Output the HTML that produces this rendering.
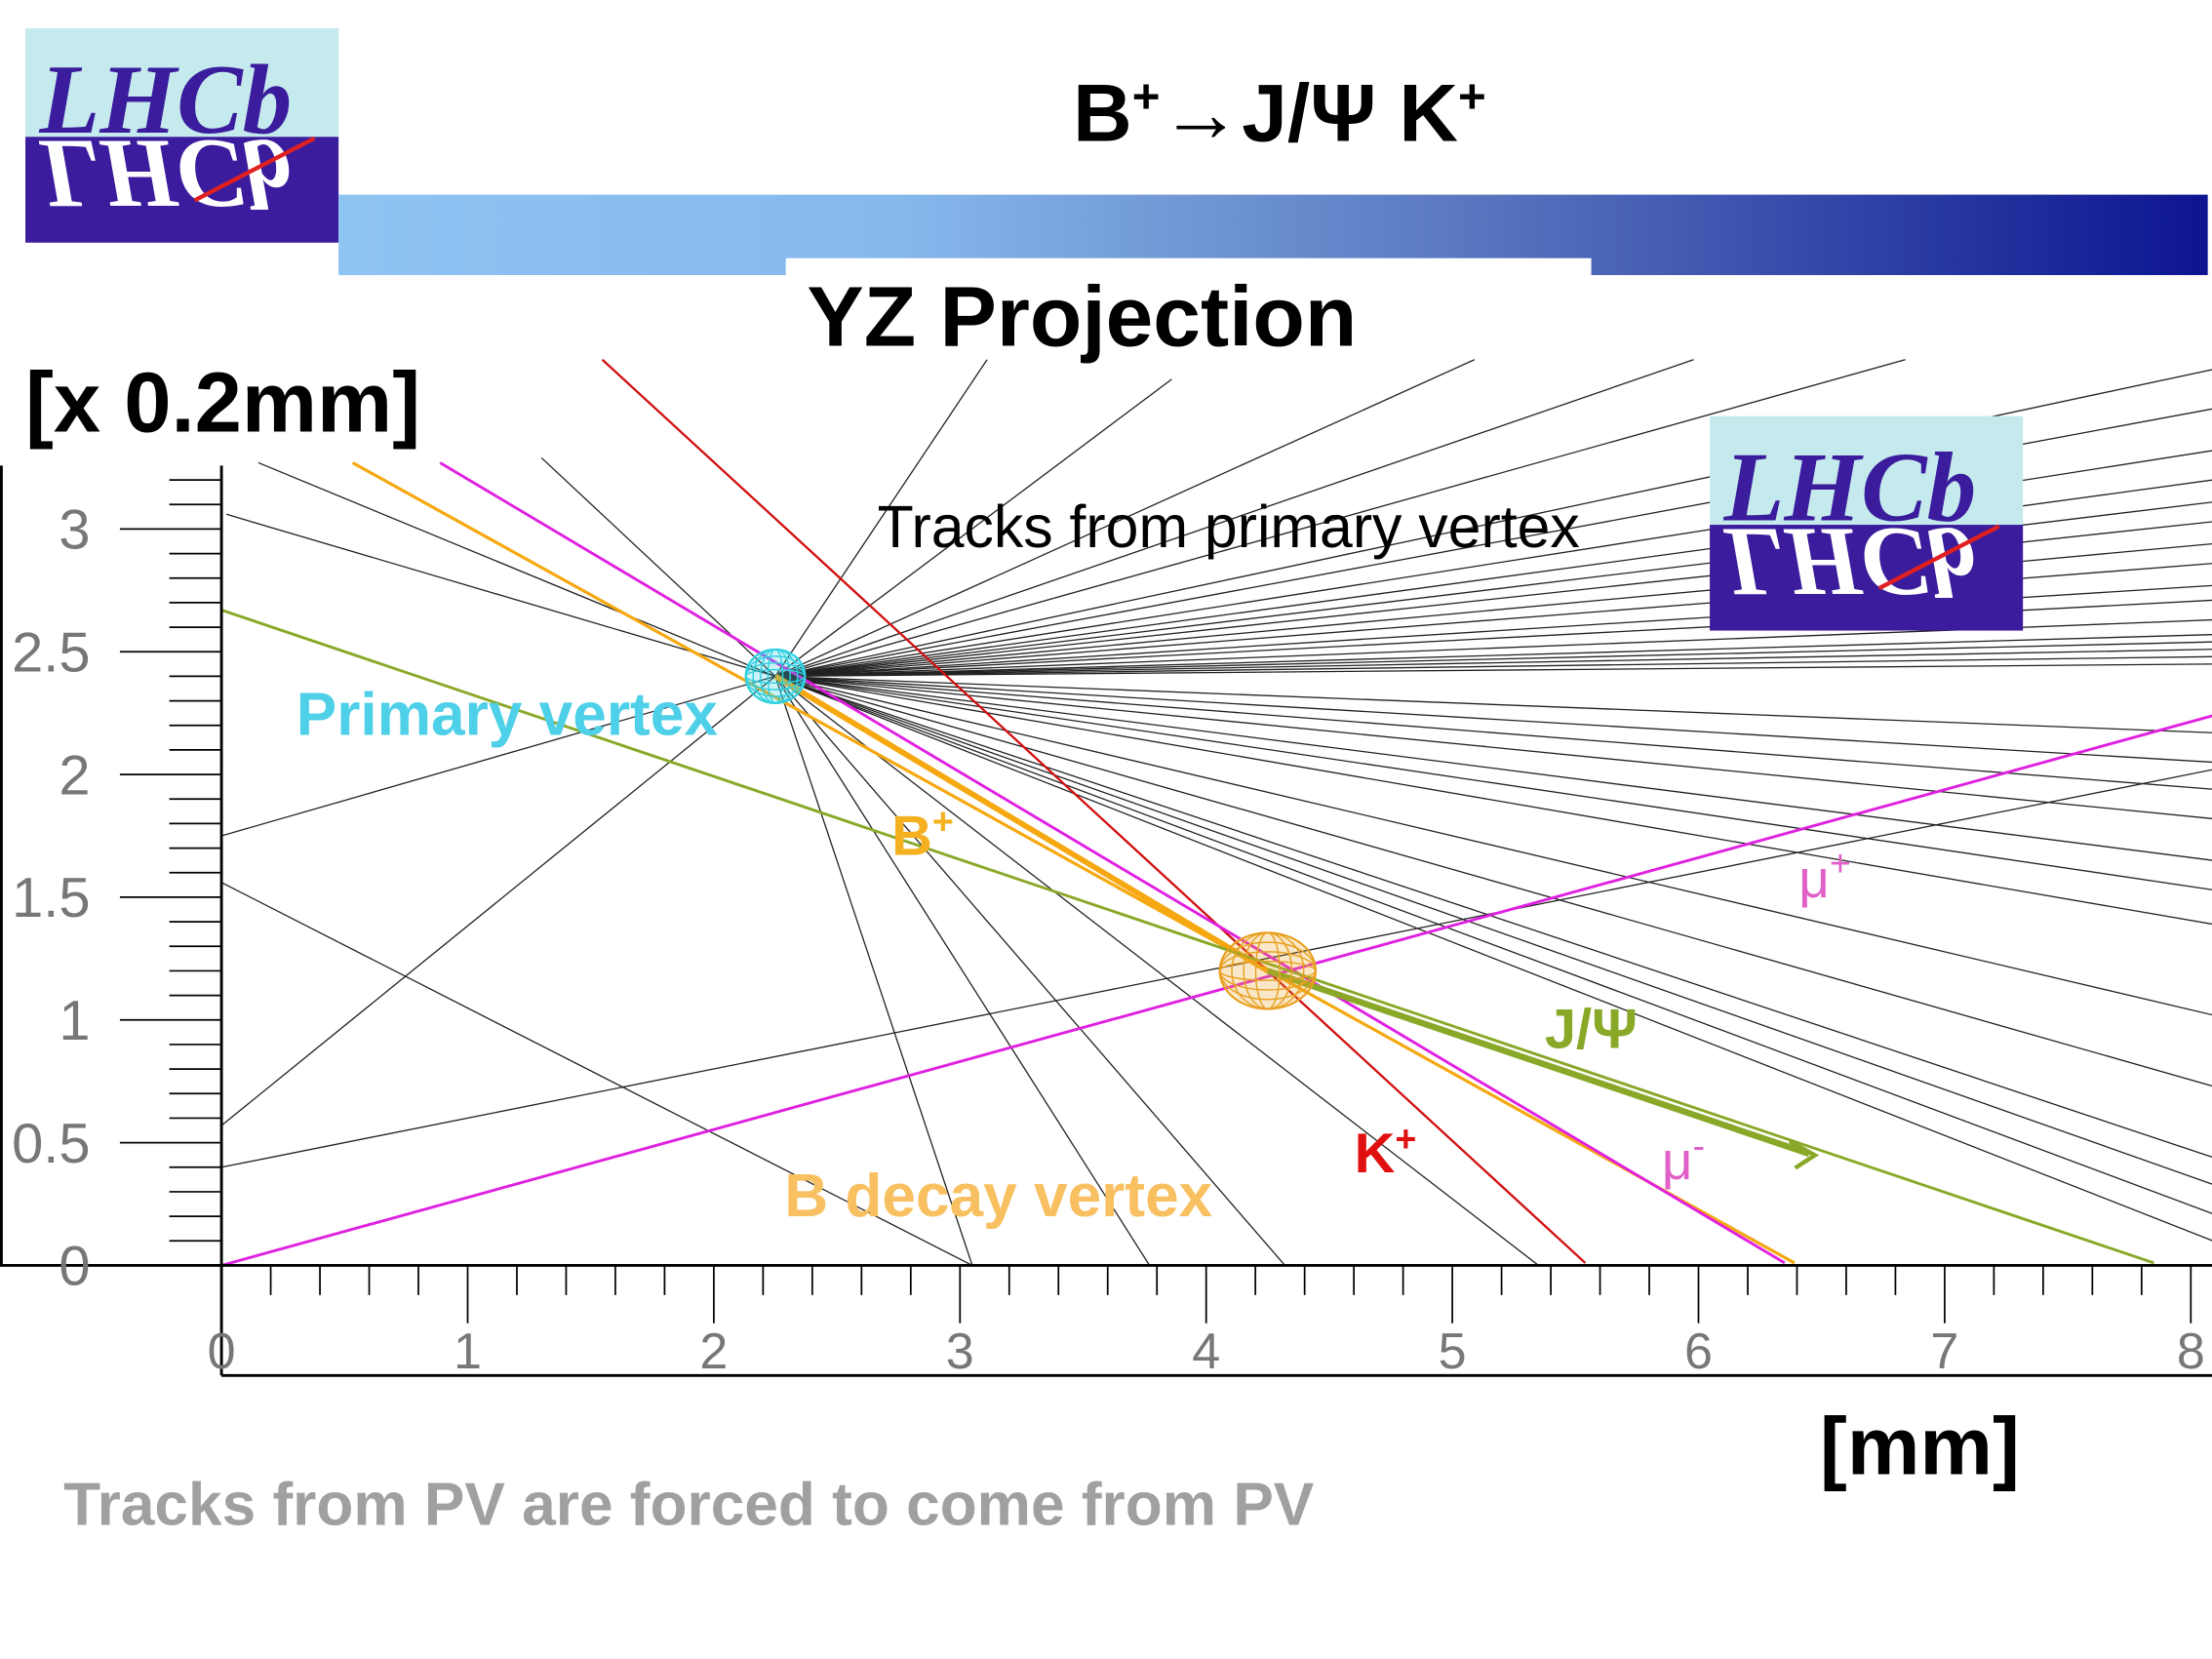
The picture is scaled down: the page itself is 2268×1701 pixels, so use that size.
<!DOCTYPE html>
<html><head><meta charset="utf-8">
<style>
html,body{margin:0;padding:0;background:#fff;}
svg{display:block;}
text{font-family:"Liberation Sans",sans-serif;}
</style></head>
<body>
<svg id="chart" width="2268" height="1701" viewBox="0 0 1568 1176" preserveAspectRatio="none" xmlns="http://www.w3.org/2000/svg">
<defs>
<linearGradient id="bar" x1="0" x2="1" y1="0" y2="0">
<stop offset="0" stop-color="#8ec4f2"/><stop offset="0.3" stop-color="#86b8ec"/><stop offset="0.6" stop-color="#5a78c0"/><stop offset="1" stop-color="#0c1490"/>
</linearGradient>
<clipPath id="plotclip"><rect x="157" y="250" width="1411" height="647"/></clipPath>
<g id="logo">
<rect x="0" y="0" width="222" height="77" fill="#c4eaee"/>
<rect x="0" y="77" width="222" height="75" fill="#3a1c9c"/>
<text x="10" y="74" style="font-family:'Liberation Serif',serif;font-style:italic;font-size:70px;font-weight:bold" fill="#3a1c9c">LHCb</text>
<text x="10" y="-80" style="font-family:'Liberation Serif',serif;font-style:italic;font-size:70px;font-weight:bold" fill="#ffffff" transform="scale(1,-1)">LHCb</text>
<line x1="120" y1="122" x2="205" y2="78" stroke="#e02020" stroke-width="3"/>
</g>
</defs>

<use href="#logo" x="18" y="20"/>
<text x="907" y="100" text-anchor="middle" font-size="58" font-weight="bold">B<tspan font-size="34" dy="-20">+</tspan><tspan dy="20">→J/Ψ K</tspan><tspan font-size="34" dy="-20">+</tspan></text>
<rect x="240" y="138" width="1325" height="57" fill="url(#bar)"/>
<rect x="557" y="183" width="571" height="80" fill="#fff"/>

<g id="plot" clip-path="url(#plotclip)"></g>

<text x="572" y="245" font-size="60.5" font-weight="bold">YZ Projection</text>
<text x="18" y="306" font-size="60" font-weight="bold">[x 0.2mm]</text>
<text x="1290" y="1045" font-size="58" font-weight="bold">[mm]</text>
<text x="45" y="1081" font-size="43" font-weight="bold" fill="#a0a0a0">Tracks from PV are forced to come from PV</text>

<g id="axes"></g>
<use href="#logo" x="1212" y="295"/>

<text x="622" y="388" font-size="42">Tracks from primary vertex</text>
<text x="210" y="521" font-size="43" font-weight="bold" fill="#4ed0e8">Primary vertex</text>
<text x="632" y="606" font-size="40" font-weight="bold" fill="#f5b020">B<tspan font-size="26" dy="-15">+</tspan></text>
<text x="1275" y="636" font-size="38" fill="#e060c8">μ<tspan font-size="26" dy="-15">+</tspan></text>
<text x="1095" y="743" font-size="40" font-weight="bold" fill="#8aa828">J/Ψ</text>
<text x="960" y="831" font-size="40" font-weight="bold" fill="#e01010">K<tspan font-size="26" dy="-15">+</tspan></text>
<text x="1178" y="836" font-size="38" fill="#e060c8">μ<tspan font-size="26" dy="-15">-</tspan></text>
<text x="556" y="862" font-size="43" font-weight="bold" fill="#f8c060">B decay vertex</text>
</svg>
<script>
// data (mm, x0.2mm units)
const xTicks = [0,1,2,3,4,5,6,7,8];
const yTicks = [0,0.5,1,1.5,2,2.5,3];
const pv = [2.25, 2.4];
const sv = [4.25, 1.2];
// PV tracks: endpoints (x,y)
const pvTrackEndX = [8.09,8.09,8.09,8.09,8.09,8.09,8.09,8.09,8.09,8.09,8.09,8.09,8.09,8.09,8.09,8.09,8.09,8.09,8.09,8.09,8.09,8.09,8.09,8.09,8.09,8.09,8.09,8.09,8.09, 3.11,3.86,5.09,5.98,6.84, 3.05,3.77,4.32,5.35, 0.15,0.02,0,0,1.3];
const pvTrackEndY = [3.65,3.49,3.32,3.20,3.11,3.03,2.94,2.86,2.77,2.71,2.63,2.57,2.54,2.51,2.48,2.45,2.17,2.05,1.94,1.82,1.65,1.53,1.39,1.02,0.73,0.44,0.33,0.21,0.10, 3.69,3.61,3.69,3.69,3.69, 0,0,0,0, 3.27,3.06,1.75,0.57,3.29];
// other tracks
const otherX1 = [0,0]; const otherY1 = [1.56,0.40];
const otherX2 = [3.05,8.09]; const otherY2 = [0,2.02];
// colored tracks
const colNames = ['k-plus-track','b-plus-track','mu-minus-track','mu-plus-track','jpsi-line'];
const colX1 = [1.547,0.533,0.888,0,0];
const colY1 = [3.69,3.27,3.27,0,2.67];
const colX2 = [5.54,6.39,6.35,8.09,7.85];
const colY2 = [0.01,0.01,0.01,2.24,0.01];
const colColor = ['#d01010','#f5a810','#e020e0','#e020e0','#8aa828'];
const colWidth = [1.6,2.2,2,2,2];
const jpsiArrowEndX = 6.45;

const NS='http://www.w3.org/2000/svg';
const X = v => 157 + v*174.5;
const Y = v => 897 - v*174;
const plot = document.getElementById('plot');
const axes = document.getElementById('axes');
function mk(tag, attrs, parent){const e=document.createElementNS(NS,tag);for(const k in attrs)e.setAttribute(k,attrs[k]);parent.appendChild(e);return e;}

for(let i=0;i<pvTrackEndX.length;i++){
  const l=mk('line',{x1:X(pv[0]),y1:Y(pv[1]),x2:X(pvTrackEndX[i]),y2:Y(pvTrackEndY[i]),stroke:'#222','stroke-width':0.9},plot);
  
  
}
for(let i=0;i<otherX1.length;i++){
  const l=mk('line',{x1:X(otherX1[i]),y1:Y(otherY1[i]),x2:X(otherX2[i]),y2:Y(otherY2[i]),stroke:'#222','stroke-width':0.9},plot);
  
  
}
const bf=mk('line',{x1:X(pv[0]),y1:Y(pv[1]),x2:X(sv[0]),y2:Y(sv[1]),stroke:'#f5a810','stroke-width':4},plot);


for(let i=0;i<colX1.length;i++){
  const l=mk('line',{x1:X(colX1[i]),y1:Y(colY1[i]),x2:X(colX2[i]),y2:Y(colY2[i]),stroke:colColor[i],'stroke-width':colWidth[i]},plot);
  
  
}
const ax2 = jpsiArrowEndX, ay2 = sv[1] + (ax2-sv[0])*((0.01-2.67)/7.85);
const ar=mk('line',{x1:X(sv[0]),y1:Y(sv[1]),x2:X(ax2),y2:Y(ay2),stroke:'#8aa828','stroke-width':4.5},plot);


const ah=mk('path',{d:`M${X(ax2)-14},${Y(ay2)-9} L${X(ax2)+4},${Y(ay2)+1} L${X(ax2)-10},${Y(ay2)+10}`,fill:'none',stroke:'#8aa828','stroke-width':3},plot);



function vertex(cx,cy,rx,ry,col,name){
  const g=mk('g',{},plot);
  
  
  mk('ellipse',{cx,cy,rx,ry,fill:col,'fill-opacity':0.25,stroke:col,'stroke-width':1.5},g);
  for(let k=1;k<4;k++){mk('ellipse',{cx,cy,rx:rx*k/4,ry,fill:'none',stroke:col,'stroke-width':1},g);mk('ellipse',{cx,cy,rx,ry:ry*k/4,fill:'none',stroke:col,'stroke-width':1},g);}
}
vertex(X(pv[0]),Y(pv[1]),21,19,'#30d0e0','primary-vertex');
vertex(X(sv[0]),Y(sv[1]),34,27,'#e8a020','b-decay-vertex');

mk('line',{x1:0,y1:897,x2:1568,y2:897,stroke:'#000','stroke-width':2},axes);
mk('line',{x1:1,y1:330,x2:1,y2:897,stroke:'#000','stroke-width':2},axes);
mk('line',{x1:157,y1:330,x2:157,y2:975,stroke:'#000','stroke-width':2},axes);
mk('line',{x1:157,y1:975,x2:1568,y2:975,stroke:'#000','stroke-width':2},axes);
for(let v=0; v<=3.25; v+=0.1){
  const vv=Math.round(v*10)/10;
  const major = Math.abs(vv*2-Math.round(vv*2))<1e-6;
  mk('line',{x1:major?85:120,y1:Y(vv),x2:157,y2:Y(vv),stroke:'#000','stroke-width':1.2},axes);
}
yTicks.forEach(t=>{
  const tx=mk('text',{x:64,y:Y(t)+14,'text-anchor':'end','font-size':40,fill:'#777'},axes);
  tx.textContent=String(t);
  
  
});
for(let v=0; v<=8.05; v+=0.2){
  const vv=Math.round(v*10)/10;
  const major=Math.abs(vv-Math.round(vv))<1e-6;
  mk('line',{x1:X(vv),y1:897,x2:X(vv),y2:major?938:918,stroke:'#000','stroke-width':1.2},axes);
}
xTicks.forEach(t=>{
  const tx=mk('text',{x:X(t),y:970,'text-anchor':'middle','font-size':36,fill:'#777'},axes);
  tx.textContent=String(t);
  
  
});
</script>
</body></html>
